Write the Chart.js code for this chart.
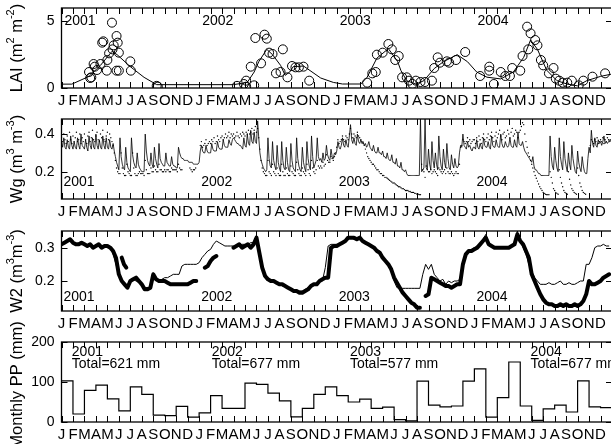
<!DOCTYPE html>
<html><head><meta charset="utf-8">
<script src="https://cdn.jsdelivr.net/npm/chart.js@4.4.1/dist/chart.umd.min.js"></script>
<style>
html,body{margin:0;padding:0;background:#fff;overflow:hidden;width:611px;height:444px;}
canvas{position:absolute;left:0;}
</style></head><body>
<canvas id="c1" width="640" height="124" style="top:-12px"></canvas>
<canvas id="c2" width="640" height="124" style="top:99px"></canvas>
<canvas id="c3" width="640" height="124" style="top:211px"></canvas>
<canvas id="c4" width="640" height="124" style="top:322px"></canvas>
<script>
const FONT = '"Liberation Sans", Arial, Helvetica, sans-serif';
const MONTHS = ['J','F','M','A','M','J','J','A','S','O','N','D'];
const YEARS = ['2001','2002','2003','2004'];
const N_MONTHS = 48;

// y tick labels per panel
const laiTicks = [0, 5];
const wgTicks = [0.2, 0.4];
const w2Ticks = [0.2, 0.3];
const ppTicks = [0, 100, 200];

// LAI observations [month, LAI]
const laiObs = [
[2.4,1.2],[2.5,0.75],[2.6,0.8],[2.8,1.8],[2.9,1.6],[3.1,1.35],[3.4,1.8],[3.55,3.4],[3.65,3.5],[3.95,1.3],[4.0,2.1],[4.15,2.6],[4.4,4.9],[4.45,2.9],[4.55,3.2],[4.8,3.9],[4.8,1.3],[4.9,3.4],[5.0,2.65],[5.0,1.3],[6.0,2.0],[6.05,1.3],[8.3,0.16],[8.4,0.1],
[15.3,0.16],[15.9,0.3],[16.1,0.55],[16.1,0.1],[16.8,0.2],[16.5,1.6],[16.9,3.75],[17.4,1.85],[17.7,4.0],[17.9,3.7],[18.1,2.65],[18.4,2.55],[18.7,1.1],[19.3,2.9],[19.1,1.2],[19.7,0.8],[20.1,1.65],[20.4,1.55],[20.7,1.55],[21.1,1.6],[21.6,0.55],
[26.65,0.4],[27.1,1.1],[27.4,1.2],[27.5,2.5],[28.0,2.65],[28.5,3.3],[28.8,2.9],[29.1,2.1],[29.4,2.4],[29.7,0.8],[30.1,0.8],[30.3,0.55],[30.6,0.3],[30.9,0.55],[31.3,0.45],[31.7,0.45],[32.3,0.55],[32.5,1.5],[32.8,2.3],[33.0,1.9],[33.6,2.0],[33.8,1.9],[34.4,2.1],[35.2,2.7],
[36.5,0.9],[37.3,1.6],[37.3,1.3],[37.7,0.3],[38.3,1.2],[38.7,0.9],[39.1,0.9],[39.3,1.5],[40.0,1.3],[40.2,2.4],[40.7,2.9],[40.6,4.6],[40.9,4.1],[41.3,3.6],[41.5,3.2],[41.8,2.1],[42.0,1.7],[42.5,1.1],[42.9,1.5],[43.1,0.7],[43.4,0.55],[43.7,0.4],[44.1,0.4],[44.5,0.55],[45.1,0.2],[45.5,0.55],[46.3,0.85],[47.4,1.1]
];
// LAI model [month, LAI]
const laiModel = [
[0,0.29],[0.9,0.29],[2.4,0.87],[3.4,1.7],[4.4,2.75],[4.85,2.5],[6.0,1.6],[7.2,0.8],[8.3,0.25],[15.0,0.25],[16.2,0.42],[16.8,1.2],[17.2,1.97],[17.9,2.9],[18.4,2.5],[19.1,1.7],[19.5,0.95],[19.9,1.2],[20.2,1.6],[21.1,1.65],[22.6,0.75],[23.7,0.42],[24.5,0.3],[26.1,0.3],[26.65,0.81],[27.5,2.24],[28.5,2.95],[29.3,2.0],[29.6,1.3],[30.1,0.55],[30.9,0.29],[31.6,0.55],[32.5,1.46],[33.3,1.97],[34.5,2.5],[35.4,1.97],[36.2,1.2],[37.1,0.81],[38.3,0.68],[39.4,1.2],[40.3,2.3],[40.9,3.6],[41.5,2.9],[42.3,1.34],[43.2,0.55],[44.1,0.29],[45.0,0.16],[45.8,0.55],[47.0,0.87],[48,1.05]
];

// Wg, one value every 0.1 month (10 per month), Jan 2001 .. Dec 2004
const WG_STEP = 0.1;
const wgModel = [
.36,.33,.38,.33,.32,.37,.33,.32,.39,.34, .32,.36,.33,.32,.38,.34,.32,.40,.34,.33, .32,.37,.33,.31,.39,.34,.32,.38,.33,.32,
.40,.34,.32,.37,.33,.32,.39,.34,.32,.38, .33,.32,.37,.33,.32,.35,.31,.28,.25,.23, .21,.38,.28,.24,.22,.21,.33,.25,.22,.21,
.20,.38,.29,.25,.23,.22,.30,.24,.22,.21, .20,.20,.20,.40,.31,.26,.24,.23,.30,.24, .22,.33,.27,.24,.22,.35,.27,.25,.24,.23,
.23,.30,.25,.24,.23,.23,.28,.24,.23,.23, .22,.22,.33,.30,.28,.27,.27,.26,.26,.26, .26,.25,.25,.25,.25,.24,.24,.24,.24,.24,
.25,.31,.34,.31,.30,.30,.34,.31,.30,.30, .30,.35,.32,.31,.31,.31,.36,.33,.32,.32, .32,.37,.34,.33,.33,.33,.37,.35,.34,.37,
.38,.37,.36,.35,.35,.34,.34,.33,.32,.38, .34,.33,.40,.35,.34,.42,.36,.35,.41,.36, .35,.47,.38,.30,.26,.24,.22,.21,.20,.21,
.38,.27,.23,.22,.36,.26,.23,.21,.34,.25, .22,.20,.36,.26,.22,.21,.33,.25,.21,.20, .35,.26,.22,.21,.20,.38,.27,.23,.21,.20,
.33,.25,.22,.20,.36,.27,.23,.21,.39,.28, .22,.24,.26,.38,.28,.26,.27,.25,.30,.26, .27,.34,.29,.27,.26,.32,.28,.27,.30,.29,
.31,.36,.33,.32,.34,.38,.34,.33,.37,.34, .33,.39,.45,.37,.35,.38,.35,.34,.40,.36, .35,.37,.35,.36,.34,.35,.33,.34,.36,.33,
.32,.31,.34,.31,.30,.30,.33,.30,.30,.29, .31,.28,.28,.27,.30,.27,.26,.26,.29,.25, .25,.24,.27,.23,.23,.22,.25,.21,.21,.20,
.21,.19,.18,.18,.18,.18,.18,.18,.18,.18, .18,.18,.18,.48,.20,.21,.22,.48,.22,.21, .32,.24,.21,.36,.26,.22,.30,.24,.21,.39,
.28,.23,.21,.32,.25,.22,.35,.27,.22,.21, .29,.24,.22,.27,.23,.22,.23,.30,.34,.33, .40,.34,.33,.32,.36,.33,.34,.32,.31,.33,
.33,.32,.37,.33,.32,.35,.33,.32,.38,.34, .33,.33,.36,.33,.32,.39,.34,.33,.33,.37, .34,.33,.33,.40,.35,.33,.33,.36,.34,.33,
.34,.38,.34,.33,.33,.37,.34,.33,.41,.35, .34,.34,.36,.33,.31,.30,.29,.28,.27,.26, .25,.28,.23,.21,.21,.20,.19,.19,.18,.18,
.18,.18,.18,.18,.18,.18,.39,.28,.23,.21, .33,.26,.22,.20,.38,.28,.24,.21,.36,.27, .23,.20,.30,.24,.21,.34,.27,.23,.20,.19,
.31,.25,.22,.20,.28,.23,.20,.19,.19,.27, .33,.30,.42,.35,.33,.38,.34,.33,.37,.35, .36,.34,.36,.39,.35,.36,.35,.36,.37,.36
];
const wgObs = [
.38,.36,.40,.37,.35,.39,.36,.41,.37,.35, .39,.36,.38,.41,.36,.37,.40,.35,.38,.36, .40,.37,.35,.39,.41,.36,.38,.42,.37,.36,
.39,.41,.37,.36,.40,.38,.42,.37,.36,.39, .41,.37,.40,.38,.36,.34,.30,.26,.22,.20, .19,.19,.30,.22,.19,.18,.18,.24,.20,.19,
.18,.18,.30,.22,.19,.18,.18,.19,.20,.19, .19,.19,.18,.26,.21,.19,.19,.19,.22,.20, .20,.23,.21,.20,.20,.24,.21,.21,.20,.20,
.21,.20,.21,.21,.20,.20,.22,.21,.21,.21, .21,.20,.24,.22,.21,.21,null,null,null,null, null,null,.22,.21,.20,.21,.21,.22,null,null,
null,.34,.36,.33,.34,.35,.37,.34,.35,.36, .35,.37,.36,.38,.35,.36,.39,.37,.36,.38, .39,.37,.38,.40,.38,.39,.41,.38,.40,.39,
.40,.38,.39,.41,.39,.38,.40,.39,.41,.40, .39,.41,.40,.42,.40,.41,.43,.40,.42,.44, .41,.43,.38,.32,.26,.22,.20,.19,.18,.18,
.26,.20,.19,.18,.24,.20,.19,.18,.22,.19, .18,.18,.24,.20,.18,.18,.22,.19,.18,.18, .23,.20,.19,.18,.18,.25,.21,.19,.18,.18,
.22,.20,.19,.18,.24,.21,.19,.18,.26,.22, .20,.19,.21,.26,.23,.22,.23,.22,.25,.23, .24,.29,.26,.25,.25,.28,.27,.26,.28,.30,
.33,.37,.35,.36,.37,.39,.37,.36,.39,.38, .37,.40,.43,.40,.38,.40,.39,.38,.41,.39, .38,.37,.36,.35,.34,.32,.30,.28,.27,.26,
.25,.24,.24,.23,.22,.21,.21,.20,.19,.19, .18,.18,.17,.17,.165,.16,.155,.15,.145,.14, .14,.135,.13,.125,.12,.12,.115,.11,.11,.105,
.10,.10,.10,.095,.095,.09,.09,.09,.085,.085, .08,.08,.078,.078,.24,.21,.20,.17,.23,.21, .20,.20,.21,.19,.20,.21,.20,.19,.18,.22,
.21,.20,.19,.20,.21,.19,.22,.20,.19,.19, .20,.19,.18,.19,.20,.19,.19,.24,.33,.34, .37,.36,.35,.36,.38,.36,.37,.35,.36,.37,
.37,.35,.38,.36,.39,.37,.35,.38,.40,.37, .36,.38,.40,.37,.39,.41,.38,.36,.39,.41, .38,.40,.42,.39,.37,.40,.41,.38,.39,.42,
.40,.38,.41,.43,.39,.40,.42,.41,.38,.41, .42,.44,.46,.45,.40,.36,.33,.30,.28,.26, .24,.22,.20,.18,.165,.15,.135,.12,.11,.10,
.09,.085,.08,.078,.078,.078,.20,.17,.14,.11, .10,.09,.085,.08,.21,.17,.14,.12,.10,.09, .085,.08,.20,.16,.13,.11,.10,.09,.085,.08,
.22,.18,.14,.12,.10,.09,.085,.08,null,null, null,.34,.37,.36,.35,.37,.36,.38,.35,.36, .37,.36,.38,.35,.37,.36,.38,.37,.36,.37
];

// W2, one value every 0.25 month (4 per month)
const W2_STEP = 0.25;
const w2Obs = [
.31,.315,.32,.325, .315,.31,.31,.315, .31,.305,.31,.30, .305,.31,.30,.305, .305,.30,.29,.27, .22,.20,.19,.18,
.20,.205,.21,.20, .19,.175,.175,.18, .22,.205,.20,.20, .20,.195,.19,.19, .19,.19,.19,.19, .19,.195,.20,.20,
null,null,.24,.245, .26,.27,.275,null, null,null,null,null, .30,.305,.31,.30, .305,.31,.30,.31, .33,.285,.24,.215,
.205,.20,.20,.195, .19,.19,.185,.18, .175,.17,.17,.165, .165,.17,.175,.185, .19,.19,.20,.205, .21,.21,.30,.305,
.305,.31,.315,.32, .33,.33,.33,.325, .33,.32,.315,.31, .305,.30,.29,.285, .27,.26,.25,.235, .21,.195,.18,.165,
.155,.145,.135,.13, .12,.12,null,.155, .16,.21,.205,.20, .195,.19,.185,.185, .18,.185,.19,.19, .25,.28,.29,.29,
.295,.30,.31,.32, .33,.31,.305,.30, .30,.30,.30,.30, .30,.305,.31,.34, .32,.31,.29,.27, .22,.20,.18,.16,
.145,.135,.13,.13, .125,.125,.13,.125, .13,.125,.125,.13, .125,.13,.14,.16, .20,.19,.19,.195, .20,.21,.215,.22
];
const w2ObsExtra = [[5.25,.27],[5.45,.25],[5.65,.24]];
const w2Model = [
.31,.315,.32,.32, .315,.31,.31,.31, .31,.305,.31,.305, .305,.31,.305,.305, .305,.30,.28,.25, .22,.20,.19,.185,
.20,.205,.20,.195, .19,.18,.18,.18, .225,.21,.20,.205, .21,.21,.215,.22, .22,.22,.245,.25, .25,.25,.25,.25,
.255,.27,.28,.29, .295,.31,.32,.315, .31,.305,.305,.305, .305,.305,.305,.31, .31,.31,.315,.315, .33,.28,.235,.21,
.205,.20,.20,.195, .19,.185,.185,.18, .175,.17,.17,.17, .17,.175,.18,.185, .19,.19,.20,.20, .24,.305,.31,.31,
.31,.31,.315,.32, .33,.33,.325,.325, .325,.32,.315,.31, .305,.30,.295,.29, .275,.26,.25,.23, .20,.18,.178,.178,
.178,.178,.178,.178, .178,.178,.22,.25, .235,.25,.22,.21, .20,.205,.19,.20, .195,.20,.20,.205, .26,.285,.29,.295,
.30,.305,.31,.325, .34,.315,.305,.30, .30,.30,.30,.30, .30,.305,.31,.35, .32,.30,.28,.25, .23,.21,.20,.19,
.19,.19,.195,.19, .19,.195,.20,.19, .19,.195,.19,.19, .195,.20,.20,.25, .25,.27,.30,.305, .305,.31,.305,.305
];

// Monthly precipitation (mm)
const ppMonthly = [
103,20,79,92,58,28,88,69,17,16,39,12,
23,66,34,34,97,94,72,53,13,34,69,88,
66,50,57,34,37,6,3,102,42,38,40,102,
133,12,61,150,40,4,33,42,25,103,38,36
];
const ppTotals = [621, 677, 577, 677];

const pairs = a => a.map(([x,y]) => ({x, y}));
const series = (vals, step) => vals.map((v,i) => ({x: i*step, y: v}));

const framePlugin = {
  id: 'frame',
  afterDraw(chart) {
    const {ctx, chartArea: a, scales: {x, y}} = chart;
    ctx.save();
    ctx.strokeStyle = '#000';
    ctx.lineWidth = 1.3;
    ctx.strokeRect(a.left, a.top, a.right - a.left, a.bottom - a.top);
    ctx.lineWidth = 1;
    ctx.beginPath();
    for (let m = 0; m <= N_MONTHS; m++) {
      const px = Math.round(x.getPixelForValue(m)) + 0.5;
      ctx.moveTo(px, a.top); ctx.lineTo(px, a.top + 6);
      ctx.moveTo(px, a.bottom); ctx.lineTo(px, a.bottom - 6);
    }
    y.ticks.forEach(t => {
      const py = Math.round(y.getPixelForValue(t.value)) + 0.5;
      ctx.moveTo(a.left, py); ctx.lineTo(a.left + 6, py);
      ctx.moveTo(a.right, py); ctx.lineTo(a.right - 6, py);
    });
    ctx.stroke();
    // y title with superscripts
    const o = chart.options.plugins.frame;
    if (o && o.title) {
      const big = '16.5px ' + FONT, small = '11px ' + FONT;
      ctx.translate(17, (a.top + a.bottom) / 2 + (o.titleShift || 0));
      ctx.rotate(-Math.PI / 2);
      let w = 0;
      o.title.forEach(p => { ctx.font = p.sup ? small : big; w += ctx.measureText(p.t).width; });
      let xx = -w / 2;
      ctx.fillStyle = '#000';
      ctx.textBaseline = 'middle';
      o.title.forEach(p => {
        ctx.font = p.sup ? small : big;
        ctx.fillText(p.t, xx, p.sup ? -6.5 : 0);
        xx += ctx.measureText(p.t).width;
      });
      ctx.setTransform(1, 0, 0, 1, 0, 0);
    }
    if (o && o.notes) {
      ctx.fillStyle = '#000';
      ctx.font = '14px ' + FONT;
      ctx.textBaseline = 'middle';
      ctx.textAlign = 'left';
      o.notes.forEach(n => {
        const px = x.getPixelForValue(n.m) + (n.dx || 0);
        const py = n.fromTop ? a.top + n.dy : a.bottom - n.dy;
        ctx.fillText(n.text, px, py);
      });
    }
    ctx.restore();
  }
};

function makeOptions(ymin, ymax, yticks, yfmt, frame) {
  return {
    responsive: false, animation: false, events: [],
    layout: {padding: {top: 20, right: 28, bottom: 0, left: 0}},
    plugins: {legend: {display: false}, tooltip: {enabled: false}, frame: frame},
    scales: {
      x: {
        type: 'linear', min: 0, max: N_MONTHS,
        grid: {display: false, drawTicks: false}, border: {display: false},
        afterBuildTicks: s => { s.ticks = Array.from({length: N_MONTHS + 1}, (_, i) => ({value: i})); },
        afterFit: s => { s.height = 24; },
        ticks: {autoSkip: false, maxRotation: 0, minRotation: 0, padding: 4, color: '#000',
          font: {size: 15, family: FONT},
          callback: v => (v < N_MONTHS ? MONTHS[v % 12] : '')}
      },
      y: {
        type: 'linear', min: ymin, max: ymax,
        grid: {display: false, drawTicks: false}, border: {display: false},
        afterBuildTicks: s => { s.ticks = yticks.map(v => ({value: v})); },
        afterFit: s => { s.width = 61.5; },
        ticks: {padding: 7, color: '#000', font: {size: 14, family: FONT}, callback: yfmt}
      }
    }
  };
}

const yearNotes = (dx, dy, fromTop) => YEARS.map((t, i) => ({text: t, m: 12 * i, dx, dy, fromTop}));

// Panel 1: LAI
new Chart(document.getElementById('c1'), {
  type: 'line',
  data: {datasets: [
    {data: pairs(laiModel), borderColor: '#000', borderWidth: 1, pointRadius: 0, fill: false},
    {data: pairs(laiObs), showLine: false, pointRadius: 4.5, pointBorderWidth: 1,
     pointBorderColor: '#000', pointBackgroundColor: 'rgba(0,0,0,0)', borderColor: '#000'}
  ]},
  options: makeOptions(0, 6, laiTicks, v => String(v), {
    title: [{t: 'LAI (m'}, {t: '2', sup: true}, {t: ' m'}, {t: '-2', sup: true}, {t: ')'}],
    notes: yearNotes(3, 13, true)
  }),
  plugins: [framePlugin]
});

// Panel 2: Wg
new Chart(document.getElementById('c2'), {
  type: 'line',
  data: {datasets: [
    {data: series(wgObs, WG_STEP), showLine: false, pointRadius: 0.7, pointBorderWidth: 0,
     pointBackgroundColor: '#000', borderColor: '#000'},
    {data: series(wgModel, WG_STEP), borderColor: '#000', borderWidth: 0.8, pointRadius: 0, fill: false}
  ]},
  options: makeOptions(0.055, 0.48, wgTicks, v => v.toFixed(1), {
    title: [{t: 'Wg (m'}, {t: '3', sup: true}, {t: ' m'}, {t: '-3', sup: true}, {t: ')'}],
    notes: yearNotes(2, 17, false)
  }),
  plugins: [framePlugin]
});

// Panel 3: W2
new Chart(document.getElementById('c3'), {
  type: 'line',
  data: {datasets: [
    {data: series(w2Model, W2_STEP), borderColor: '#000', borderWidth: 1, pointRadius: 0, fill: false},
    {data: series(w2Obs, W2_STEP), borderColor: '#000', borderWidth: 4, pointRadius: 0, fill: false,
     spanGaps: false, borderJoinStyle: 'round', borderCapStyle: 'round'},
    {data: pairs(w2ObsExtra), borderColor: '#000', borderWidth: 4, pointRadius: 0, fill: false,
     borderCapStyle: 'round'}
  ]},
  options: makeOptions(0.11, 0.35, w2Ticks, v => v.toFixed(1), {
    title: [{t: 'W2 (m'}, {t: '3', sup: true}, {t: 'm'}, {t: '-3', sup: true}, {t: ')'}],
    notes: yearNotes(2, 14, false)
  }),
  plugins: [framePlugin]
});

// Panel 4: monthly precipitation
const ppPoints = ppMonthly.map((v, i) => ({x: i, y: v}));
ppPoints.push({x: N_MONTHS, y: ppMonthly[ppMonthly.length - 1]});
const ppNoteMonths = [0.9, 13.1, 25.15, 40.9];
const ppNotes = [];
YEARS.forEach((t, i) => {
  ppNotes.push({text: t, m: ppNoteMonths[i], dy: 10, fromTop: true});
  ppNotes.push({text: 'Total=' + ppTotals[i] + ' mm', m: ppNoteMonths[i], dy: 22, fromTop: true});
});
new Chart(document.getElementById('c4'), {
  type: 'line',
  data: {datasets: [
    {data: ppPoints, stepped: true, borderColor: '#000', borderWidth: 1.2, pointRadius: 0, fill: false}
  ]},
  options: makeOptions(0, 200, ppTicks, v => String(v), {
    title: [{t: 'Monthly PP (mm)'}],
    titleShift: 3,
    notes: ppNotes
  }),
  plugins: [framePlugin]
});
</script>
</body></html>
